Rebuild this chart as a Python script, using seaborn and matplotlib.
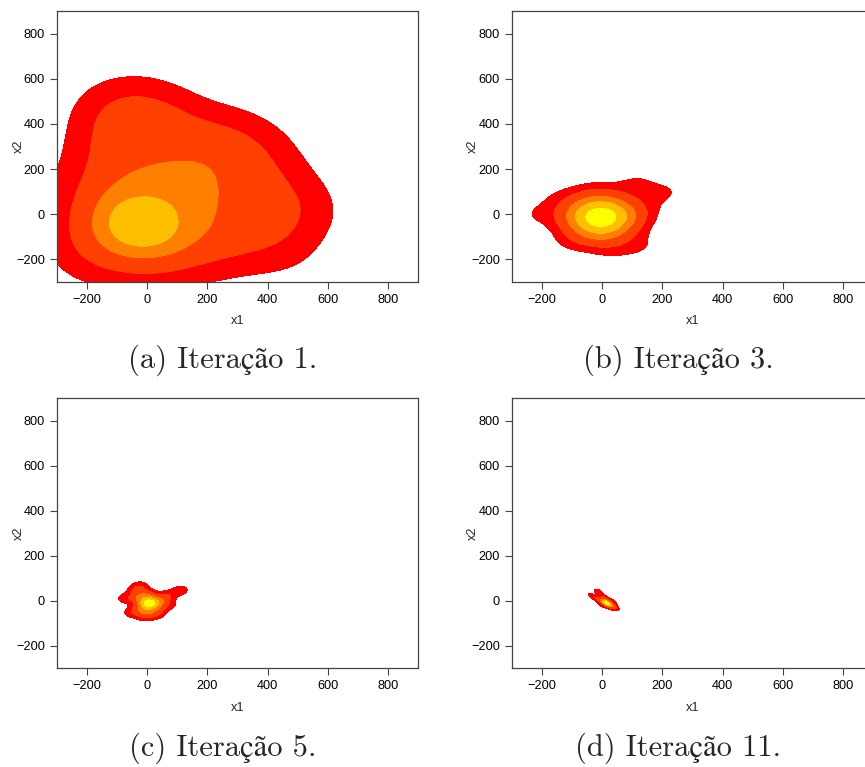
import numpy as np
import pandas as pd
import matplotlib
matplotlib.use("Agg")
import matplotlib.pyplot as plt
import seaborn as sns
from seaborn._statistics import KDE

# Population samples (x1, x2) with weights at each iteration
x1_it1 = [-190, -60, 80, 210, 330, 420, -175, -60, 80, 220, 455, -175, -60, 80, 220, 350,
          -130, -50, 80, 220, 380, -100, -20, 100, 220, 320, -90, 20, 540, 470,
          -70, 20, -25, -25, 150, 20]
x2_it1 = [-165, -165, -165, -140, -90, -60, -50, -50, -50, -50, 50, 90, 90, 90, 90, 80,
          230, 230, 230, 230, 200, 370, 380, 350, 330, 300, 460, 450, 20, -200,
          -35, -35, 20, -100, 120, -140]
w_it1 = [1, 1, 1, 1, 1, 1, 1, 1, 1, 1, 1, 1, 1, 1, 1, 1,
         1, 1, 1, 1, 1, 1, 1, 1, 1, 1, 1, 1, 0.35, 0.3,
         1.7, 1.7, 0.8, 0.8, 1.2, 0.6]

x1_it3 = [-5, 80, -90, -5, -5, 55, -65, 55, -65, -215, -140, -40, 110, 205, 130, 120, 30, -100]
x2_it3 = [-15, -15, -10, 55, -90, 40, 40, -70, -70, 0, 70, 100, 135, 95, 20, -140, -150, -120]
w_it3 = [4, 1.5, 1.5, 1.3, 1.3, 1, 1, 1, 1, 0.4, 0.35, 0.3, 0.45, 0.45, 0.3, 0.4, 0.35, 0.3]

x1_it5 = [5, -30, 40, 0, 0, -30, 35, -35, -75, -25, -55, -10, 65, 110, 75, 30]
x2_it5 = [-12, 10, -5, 25, -50, -40, -40, 45, 10, 65, -55, -70, 20, 45, -20, -65]
w_it5 = [4, 1.2, 1.2, 1, 1, 0.8, 0.8, 0.7, 0.5, 0.45, 0.4, 0.45, 0.75, 0.6, 0.4, 0.4]

x1_it11 = [15, 0, 30, 42, -20, -35, -12, -10, 10, 20, -5, 30, 5, 35]
x2_it11 = [-12, -2, -20, -28, 10, 20, 30, 40, 5, -28, -18, 0, 15, -10]
w_it11 = [3, 1.2, 1.2, 0.4, 0.6, 0.4, 0.4, 0.35, 0.6, 0.6, 0.4, 0.4, 0.4, 0.3]

# Density breaks, as fractions of each panel's peak density
breaks_it1 = [0.085, 0.26, 0.54, 0.77]
breaks_it3 = [0.07, 0.18, 0.38, 0.58, 0.82]
breaks_it5 = [0.07, 0.18, 0.36, 0.56, 0.80]
breaks_it11 = [0.06, 0.22, 0.42, 0.62, 0.84]

bandwidths = [0.55, 0.65, 0.50, 0.58]
captions = ["(a) Iteração 1.", "(b) Iteração 3.", "(c) Iteração 5.", "(d) Iteração 11."]
ticks = [-200, 0, 200, 400, 600, 800]

heat = ["#FF0000", "#FF4000", "#FF8000", "#FFBF00", "#FFFF00"]

sns.set_style("ticks")
plt.rcParams["font.family"] = ["Liberation Sans", "DejaVu Sans"]

W, H = 865, 767
fig = plt.figure(figsize=(W / 100, H / 100), dpi=100)


def iso_props(x, y, w, bw, fracs):
    """Turn peak-relative density breaks into seaborn iso-proportion levels."""
    est = KDE(bw_method=bw, gridsize=200, cut=3)
    dens, _ = est(x, y, weights=w)
    vals = np.sort(dens.ravel())[::-1]
    cum = np.cumsum(vals) / vals.sum()
    props = []
    for f in fracs:
        k = int(np.sum(vals >= f * vals[0]))
        props.append(1.0 - cum[k - 1])
    return props + [1.0]


panels = [
    (x1_it1, x2_it1, w_it1, breaks_it1),
    (x1_it3, x2_it3, w_it3, breaks_it3),
    (x1_it5, x2_it5, w_it5, breaks_it5),
    (x1_it11, x2_it11, w_it11, breaks_it11),
]

# axes boxes in pixels: left, top, right, bottom
boxes = [(57, 11, 418, 282), (512, 11, 873, 282),
         (57, 398, 418, 668), (512, 398, 873, 668)]
cap_pos = [(223, 368), (678, 368), (223, 756), (678, 756)]

for i, ((x, y, w, br), (l, t, r, b)) in enumerate(zip(panels, boxes)):
    ax = fig.add_axes([l / W, 1 - b / H, (r - l) / W, (b - t) / H])
    xs = np.asarray(x, dtype=float)
    ys = np.asarray(y, dtype=float)
    ws = np.asarray(w, dtype=float)
    levels = iso_props(xs, ys, ws, bandwidths[i], br)
    sns.kdeplot(x=xs, y=ys, weights=ws, fill=True, color=heat[0],
                bw_method=bandwidths[i], gridsize=200, cut=3,
                levels=levels, colors=heat[:len(br)], ax=ax)
    ax.set_xlim(-300, 900)
    ax.set_ylim(-300, 900)
    ax.set_xticks(ticks)
    ax.set_yticks(ticks)
    ax.tick_params(axis="both", length=4.8, width=0.8, color="#444444",
                   labelsize=9.2, labelcolor="black", pad=3.8)
    for s in ax.spines.values():
        s.set_visible(True)
        s.set_color("#444444")
        s.set_linewidth(0.9)
    ax.set_xlabel("x1", fontsize=9.2)
    ax.set_ylabel("x2", fontsize=9.2)
    ax.xaxis.label.set_va("center")
    ax.yaxis.label.set_va("center")
    lab_y = 321 if t < 300 else 708
    lab_x = 19 if l < 300 else 473
    ax.xaxis.set_label_coords(0.5, -(lab_y - b) / (b - t))
    ax.yaxis.set_label_coords(-(l - lab_x) / (r - l), 0.5)

    cx, cy = cap_pos[i]
    fig.text(cx / W, 1 - cy / H, captions[i], ha="center", va="baseline",
             fontsize=22, family=["cmr10", "STIXGeneral", "DejaVu Serif"])

fig.savefig("out.png", dpi=100)
